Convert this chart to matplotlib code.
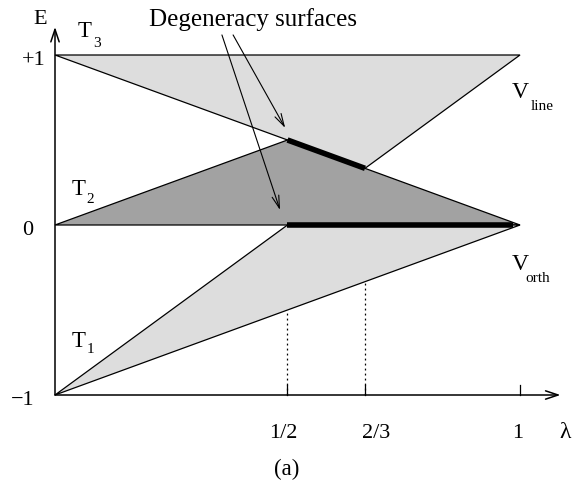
import matplotlib
matplotlib.use("Agg")
import matplotlib.pyplot as plt
from matplotlib.patches import Polygon

plt.rcParams['font.family'] = ['Liberation Serif', 'DejaVu Serif']

# ---- data ----
T3_lam = [0, 1, 2/3]
T3_E = [1, 1, 1/3]
T2_lam = [0, 1/2, 1]
T2_E = [0, 1/2, 0]
T1_lam = [0, 1/2, 1]
T1_E = [-1, 0, 0]
deg1_lam = [1/2, 2/3]
deg1_E = [1/2, 1/3]
deg2_lam = [1/2, 0.985]
deg2_E = [0, 0]
dot_lam = [1/2, 2/3]
dot_E_top = [-1/2, -1/3]
x_ticks = [1/2, 2/3, 1]
x_tick_labels = ['1/2', '2/3', '1']
y_ticks = [1, 0, -1]
y_tick_labels = ['+1', '0', '\u22121']

LIGHT = '#dddddd'
DARK = '#a2a2a2'

fig = plt.figure(figsize=(5.81, 4.83), dpi=100)
ax = fig.add_axes([0, 0, 1, 1])
ax.set_xlim(-55/465, 526/465)
ax.set_ylim((225-483)/170, 225/170)
ax.axis('off')


def P(px, py):
    return (px - 55) / 465, (225 - py) / 170


for lam, E, c in [(T3_lam, T3_E, LIGHT), (T2_lam, T2_E, DARK), (T1_lam, T1_E, LIGHT)]:
    ax.add_patch(Polygon(list(zip(lam, E)), closed=True, facecolor=c,
                         edgecolor='black', linewidth=0.9, zorder=2))

ax.plot(deg1_lam, deg1_E, color='black', linewidth=4.0, solid_capstyle='butt', zorder=4)
ax.plot(deg2_lam, deg2_E, color='black', linewidth=4.0, solid_capstyle='butt', zorder=4)

# axes with arrows
ax.annotate('', xy=(1.087, -1), xytext=(0, -1),
            arrowprops=dict(arrowstyle='->,head_length=0.9,head_width=0.3', color='black', lw=1.1,
                            shrinkA=0, shrinkB=0), zorder=5)
ax.annotate('', xy=(0, 1.165), xytext=(0, -1),
            arrowprops=dict(arrowstyle='->,head_length=0.9,head_width=0.3', color='black', lw=1.1,
                            shrinkA=0, shrinkB=0), zorder=5)

# ticks
for xt in x_ticks:
    ax.plot([xt, xt], [-1, -0.94], color='black', linewidth=0.9, zorder=5)
for xt, lab in zip(x_ticks, x_tick_labels):
    off = {'1/2': -0.01, '2/3': 0.025, '1': -0.006}[lab]
    ax.text(xt + off, -1.253, lab, ha='center', va='baseline', fontsize=16)
ax.text(1.097, -1.253, '\u03bb', ha='center', va='baseline', fontsize=17)

y_tick_x = {'+1': -0.045, '0': -0.058, '\u22121': -0.069}
for yt, lab in zip(y_ticks, y_tick_labels):
    ax.text(y_tick_x[lab], yt - 0.03, lab, ha='center', va='center', fontsize=16)
ax.text(-0.032, 1.21, 'E', ha='center', va='center', fontsize=16)

# dotted verticals
for lx, et in zip(dot_lam, dot_E_top):
    ax.plot([lx, lx], [-1, et], color='black', linewidth=0.9, linestyle=(0, (1.5, 2.5)), zorder=3)

# region labels with manual subscripts
labels = [
    ('T', 78, 37, '3', 93, 47, 16.5, 11),
    ('T', 72, 195, '2', 86, 203, 16.5, 11),
    ('T', 72, 347, '1', 87, 353, 16.5, 11),
    ('V', 512, 98, 'line', 531, 110, 17, 11),
    ('V', 512, 270, 'orth', 525, 282, 17, 11),
]
for main, mx, my, sub, sx, sy, fs, sfs in labels:
    ax.text(*P(mx, my), main, ha='left', va='baseline', fontsize=fs)
    ax.text(*P(sx, sy), sub, ha='left', va='baseline', fontsize=sfs)

ax.text(0.426, 1.171, 'Degeneracy surfaces', ha='center', va='baseline', fontsize=18)
ax.text(0.499, -1.47, '(a)', ha='center', va='baseline', fontsize=16.5)

ax.annotate('', xy=(0.495, 0.571), xytext=(0.383, 1.118),
            arrowprops=dict(arrowstyle='->,head_length=0.9,head_width=0.25', color='black', lw=0.8,
                            shrinkA=0, shrinkB=0), zorder=6)
ax.annotate('', xy=(0.484, 0.088), xytext=(0.359, 1.118),
            arrowprops=dict(arrowstyle='->,head_length=0.9,head_width=0.25', color='black', lw=0.8,
                            shrinkA=0, shrinkB=0), zorder=6)

fig.savefig('out.png', dpi=100)
